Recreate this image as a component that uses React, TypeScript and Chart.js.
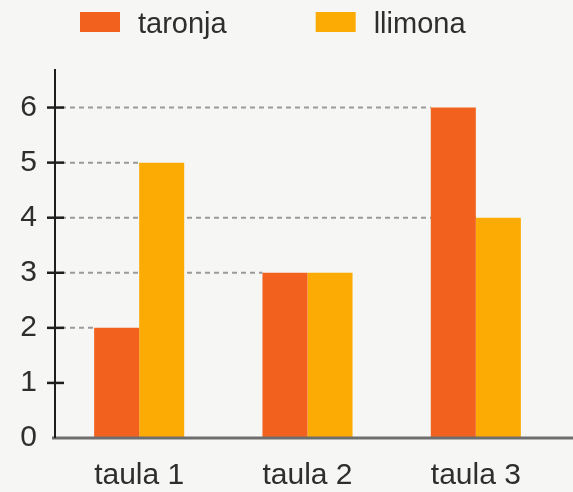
import React, { useEffect, useRef } from 'react';
import { Chart, registerables } from 'chart.js';

Chart.register(...registerables);

const categories = ['taula 1', 'taula 2', 'taula 3'];
const seriesNames = ['taronja', 'llimona'];
const taronjaValues = [2, 3, 6];
const llimonaValues = [5, 3, 4];
const yTickValues = [0, 1, 2, 3, 4, 5, 6];
const yMax = 6.7;

const ORANGE = '#F2621E';
const YELLOW = '#FCAB04';
const TEXT = '#2e2e2e';
const FONT = "'Liberation Sans', Arial, Helvetica, sans-serif";

const decorPlugin = {
  id: 'decor',
  beforeDatasetsDraw(chart: any) {
    const ctx = chart.ctx;
    const axisX = chart.chartArea.left;
    // for each distinct value, the leftmost bar edge reached by the guide line
    const targets = new Map<number, { y: number; x: number }>();
    chart.data.datasets.forEach((ds: any, i: number) => {
      const meta = chart.getDatasetMeta(i);
      meta.data.forEach((bar: any, j: number) => {
        const v = ds.data[j];
        const { x, y, width } = bar.getProps(['x', 'y', 'width'], true);
        const edge = x - width / 2;
        const cur = targets.get(v);
        if (!cur || edge < cur.x) targets.set(v, { y, x: edge });
      });
    });
    ctx.save();
    ctx.strokeStyle = '#9a9a9a';
    ctx.lineWidth = 2;
    ctx.setLineDash([5, 4]);
    targets.forEach(({ x, y }) => {
      ctx.beginPath();
      ctx.moveTo(axisX + 6, y);
      ctx.lineTo(x, y);
      ctx.stroke();
    });
    ctx.restore();
  },
  afterDatasetsDraw(chart: any) {
    const ctx = chart.ctx;
    const { left, top, bottom } = chart.chartArea;
    const yScale = chart.scales.y;
    ctx.save();
    ctx.strokeStyle = '#6e6e6e';
    ctx.lineWidth = 3;
    ctx.beginPath();
    ctx.moveTo(left - 3, bottom);
    ctx.lineTo(chart.width, bottom);
    ctx.stroke();
    ctx.strokeStyle = '#1e1e1e';
    ctx.lineWidth = 2;
    ctx.beginPath();
    ctx.moveTo(left, top);
    ctx.lineTo(left, bottom);
    ctx.stroke();
    ctx.lineWidth = 2.5;
    yScale.ticks.forEach((t: any) => {
      if (t.value === 0) return;
      const py = yScale.getPixelForValue(t.value);
      ctx.beginPath();
      ctx.moveTo(left - 8, py);
      ctx.lineTo(left + 9, py);
      ctx.stroke();
    });
    ctx.restore();
  },
  afterDraw(chart: any) {
    const ctx = chart.ctx;
    ctx.save();
    ctx.font = `29px ${FONT}`;
    ctx.textBaseline = 'alphabetic';
    ctx.textAlign = 'left';
    let x = 80;
    chart.data.datasets.forEach((ds: any) => {
      ctx.fillStyle = ds.backgroundColor;
      ctx.fillRect(x, 12, 40, 20);
      ctx.fillStyle = TEXT;
      ctx.fillText(ds.label, x + 58, 33);
      x += 58 + ctx.measureText(ds.label).width + 89;
    });
    ctx.restore();
  },
};

export default function App() {
  const canvasRef = useRef<HTMLCanvasElement | null>(null);

  useEffect(() => {
    if (!canvasRef.current) return;
    const chart = new Chart(canvasRef.current, {
      type: 'bar',
      data: {
        labels: categories,
        datasets: [
          {
            label: seriesNames[0],
            data: taronjaValues,
            backgroundColor: ORANGE,
            borderWidth: 0,
            categoryPercentage: 0.535,
            barPercentage: 1,
          },
          {
            label: seriesNames[1],
            data: llimonaValues,
            backgroundColor: YELLOW,
            borderWidth: 0,
            categoryPercentage: 0.535,
            barPercentage: 1,
          },
        ],
      },
      options: {
        responsive: false,
        animation: false,
        layout: { padding: { top: 69, right: 13, left: 0, bottom: 0 } },
        plugins: {
          legend: { display: false },
          tooltip: { enabled: false },
        },
        scales: {
          x: {
            grid: { display: false, drawTicks: false },
            border: { display: false },
            ticks: {
              color: TEXT,
              font: { family: FONT, size: 30 },
              padding: 20,
              maxRotation: 0,
            },
            afterFit(scale: any) {
              scale.height = 54;
            },
          },
          y: {
            min: 0,
            max: yMax,
            grid: { display: false, drawTicks: false },
            border: { display: false },
            afterBuildTicks(scale: any) {
              scale.ticks = yTickValues.map((v) => ({ value: v }));
            },
            ticks: {
              color: TEXT,
              font: { family: FONT, size: 30 },
              padding: 18,
            },
            afterFit(scale: any) {
              scale.width = 55;
            },
          },
        },
      },
      plugins: [decorPlugin],
    });
    return () => chart.destroy();
  }, []);

  return (
    <div
      style={{
        position: 'fixed',
        left: 0,
        top: 0,
        width: 573,
        height: 492,
        background: '#f6f6f4',
      }}
    >
      <canvas ref={canvasRef} width={573} height={492} />
    </div>
  );
}
